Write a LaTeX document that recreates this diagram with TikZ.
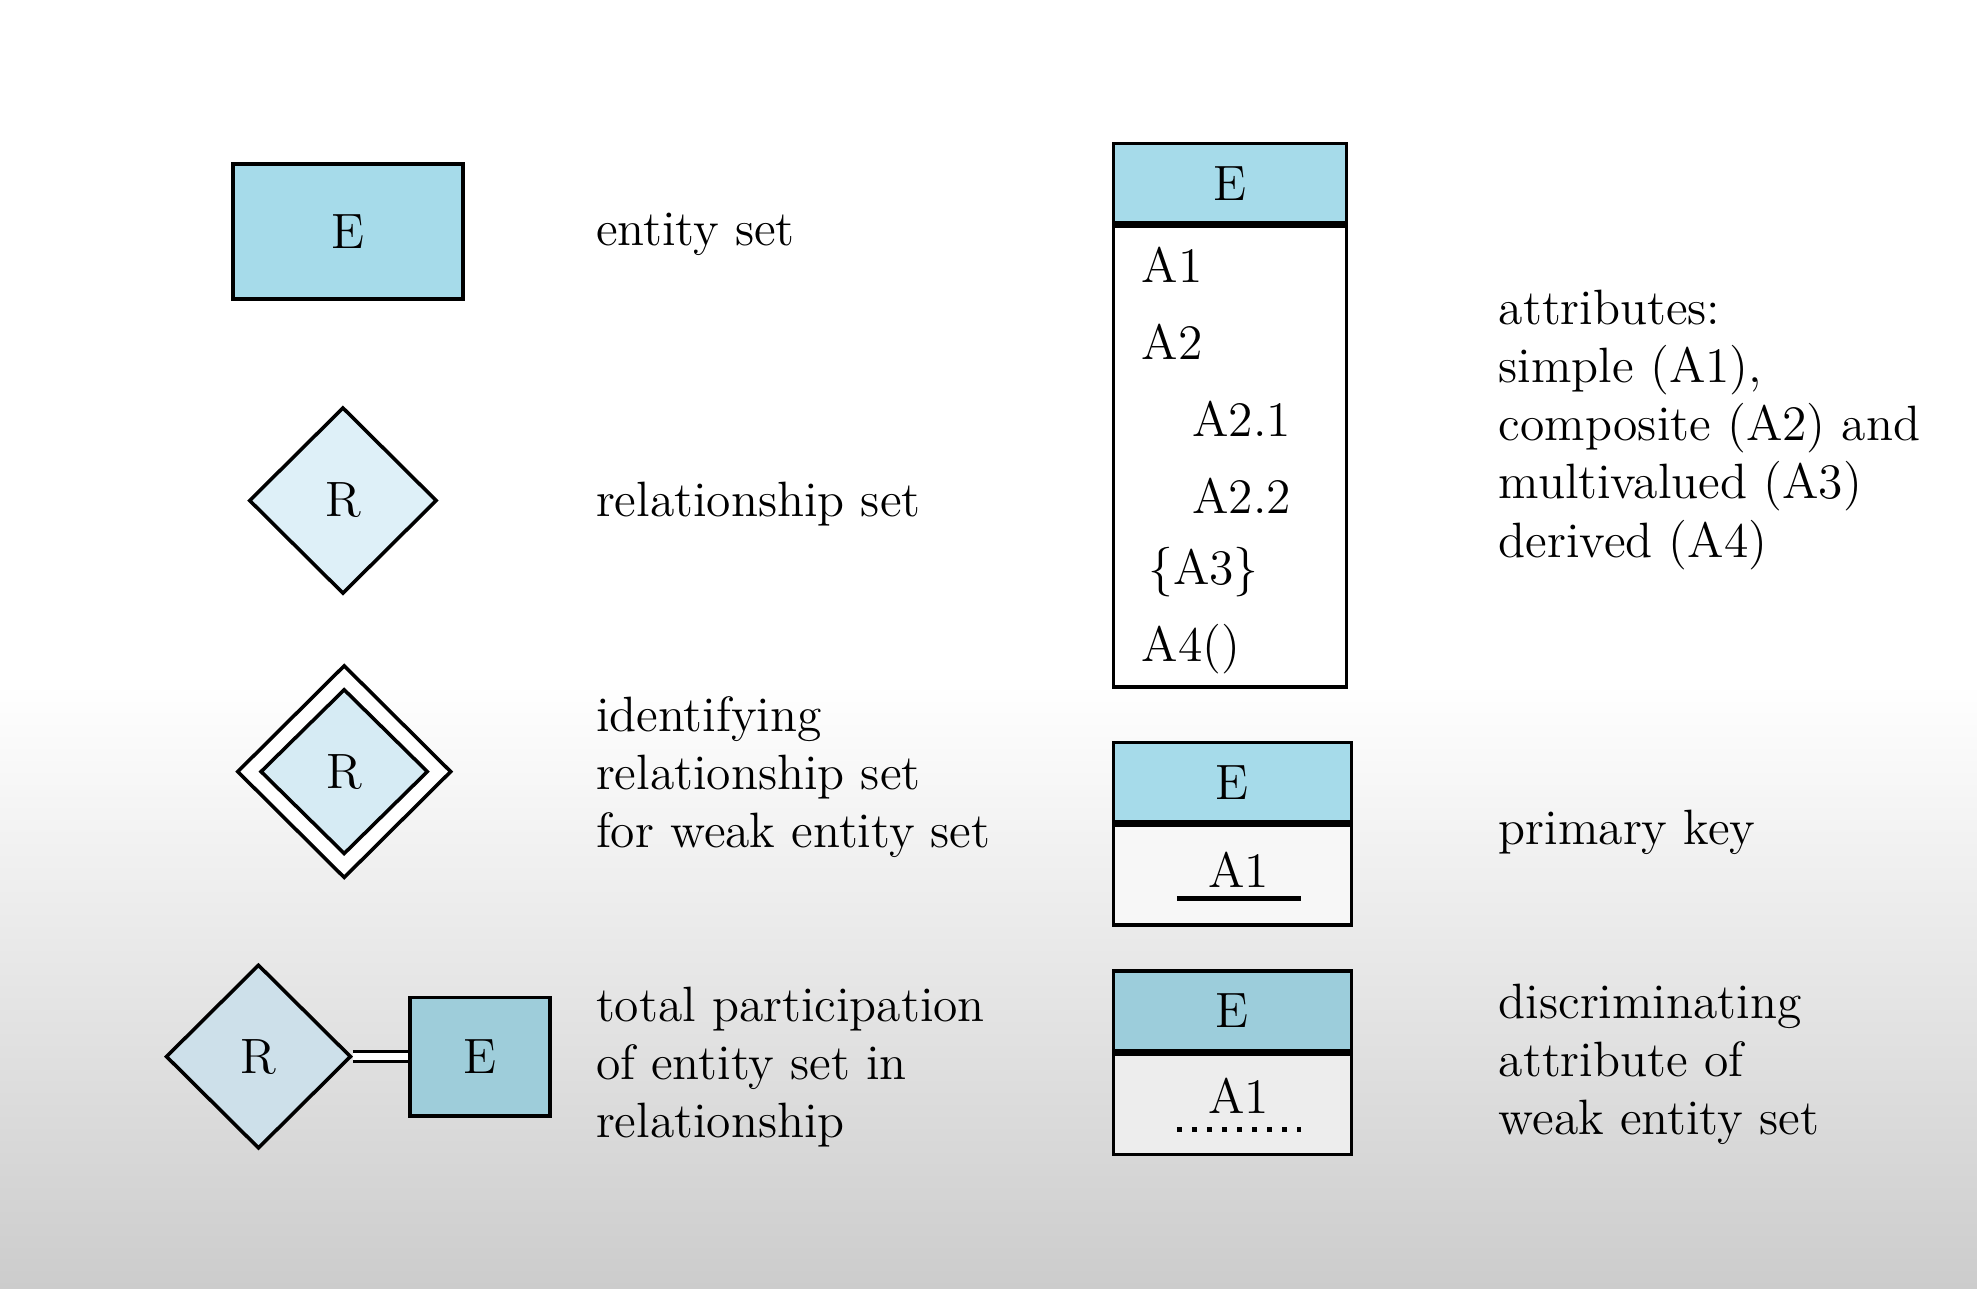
\documentclass[tikz,border=0pt]{standalone}
\usetikzlibrary{positioning, shapes.geometric}
\definecolor{entblue}{RGB}{166,219,234}
\definecolor{relblue}{RGB}{222,240,248}
\definecolor{wkblue}{RGB}{214,235,244}
\definecolor{trblue}{RGB}{205,224,234}
\definecolor{teblue}{RGB}{158,205,218}
\definecolor{dkblue}{RGB}{156,205,219}
\definecolor{bggrey}{RGB}{204,204,204}
\tikzset{
	entity/.style={
		rectangle,
		draw,
		line width=0.8pt,
		text centered,
		fill=entblue,
		minimum width=1.82cm,
		minimum height=1.07cm,
	},
	relation/.style={
		diamond,
		draw,
		line width=0.8pt,
		inner sep=0pt,
		aspect=1,
		fill=relblue,
		minimum width=1.49cm,
		minimum height=1.48cm,
	},
	entityhead/.style={
		rectangle,
		draw,
		line width=0.8pt,
		inner sep=0pt,
		fill=entblue,
		minimum width=1.85cm,
		minimum height=0.63cm,
	},
	entitybody/.style={
		rectangle,
		draw,
		line width=0.8pt,
		inner sep=0pt,
		fill=white,
		minimum width=1.85cm,
	},
	attr/.style={
		anchor=west,
		inner sep=0pt,
	},
	note/.style={
		anchor=west,
		align=left,
		inner sep=0pt,
	},
}
\begin{document}
\begin{tikzpicture}[every node/.append style={font=\fontsize{11.2}{13.1}\selectfont}]
		% Background
		\fill[white] (0,0) rectangle (15.68,10.22);
		\shade[top color=white, bottom color=bggrey] (0,0) rectangle (15.68,4.8);
		\useasboundingbox (0,0) rectangle (15.68,10.22);
		
		% Left column: symbols
		\node [entity] (ent) at (2.76,8.385) {E};
		\node [note] (entnote) at (4.72,8.36) {entity set};
		
		\node [relation] (rel) at (2.72,6.25) {R};
		\node [note] (relnote) at (4.72,6.22) {relationship set};
		
		\node [relation, fill=white, minimum width=1.70cm, minimum height=1.69cm] (wro) at (2.73,4.10) {};
		\node [relation, fill=wkblue, minimum width=1.33cm, minimum height=1.31cm] (wr) at (wro.center) {R};
		\node [note] (wrnote) at (4.72,4.06) {identifying\\relationship set\\for weak entity set};
		
		\node [relation, fill=trblue, minimum width=1.47cm, minimum height=1.46cm] (tr) at (2.05,1.84) {R};
		\node [entity, fill=teblue, minimum width=1.11cm, minimum height=0.94cm] (te) at (3.805,1.84) {E};
		\draw [double, double distance=0.05cm, line width=0.7pt] (tr.east) -- (te.west);
		\node [note] (trnote) at (4.72,1.76) {total participation\\of entity set in\\relationship};
		
		% Right column: attributes
		\node [entityhead] (ah) at (9.755,8.765) {E};
		\node [entitybody, minimum height=3.65cm, below=0cm of ah] (ab) {};
		\node [attr] (a1) at (9.05,8.12) {A1};
		\node [attr] (a2) at (9.05,7.51) {A2};
		\node [attr] (a21) at (9.45,6.90) {A2.1};
		\node [attr] (a22) at (9.45,6.29) {A2.2};
		\node [attr] (a3) at (9.10,5.68) {\{A3\}};
		\node [attr] (a4) at (9.05,5.07) {A4()};
		\node [note] (anote) at (11.88,6.81) {attributes:\\simple (A1),\\composite (A2) and\\multivalued (A3)\\derived (A4)};
		
		\node [entityhead, minimum width=1.89cm] (pkh) at (9.775,4.015) {E};
		\node [entitybody, minimum width=1.89cm, minimum height=0.79cm, fill=black!3, below=0cm of pkh] (pkb) {};
		\node [inner sep=0pt, minimum width=0.97cm] (pka) at (9.825,3.32) {A1};
		\draw [line width=1.1pt] ([yshift=-0.08cm]pka.south west) -- ([yshift=-0.08cm]pka.south east);
		\node [note] (pknote) at (11.88,3.62) {primary key};
		
		\node [entityhead, minimum width=1.89cm, fill=dkblue] (dkh) at (9.775,2.205) {E};
		\node [entitybody, minimum width=1.89cm, minimum height=0.80cm, fill=black!7, below=0cm of dkh] (dkb) {};
		\node [inner sep=0pt, minimum width=0.97cm] (dka) at (9.825,1.53) {A1};
		\draw [line width=1.1pt, dash pattern=on 1.1pt off 2.3pt] ([yshift=-0.12cm]dka.south west) -- ([yshift=-0.12cm]dka.south east);
		\node [note] (dknote) at (11.88,1.775) {discriminating\\attribute of\\weak entity set};

	\end{tikzpicture}
\end{document}
